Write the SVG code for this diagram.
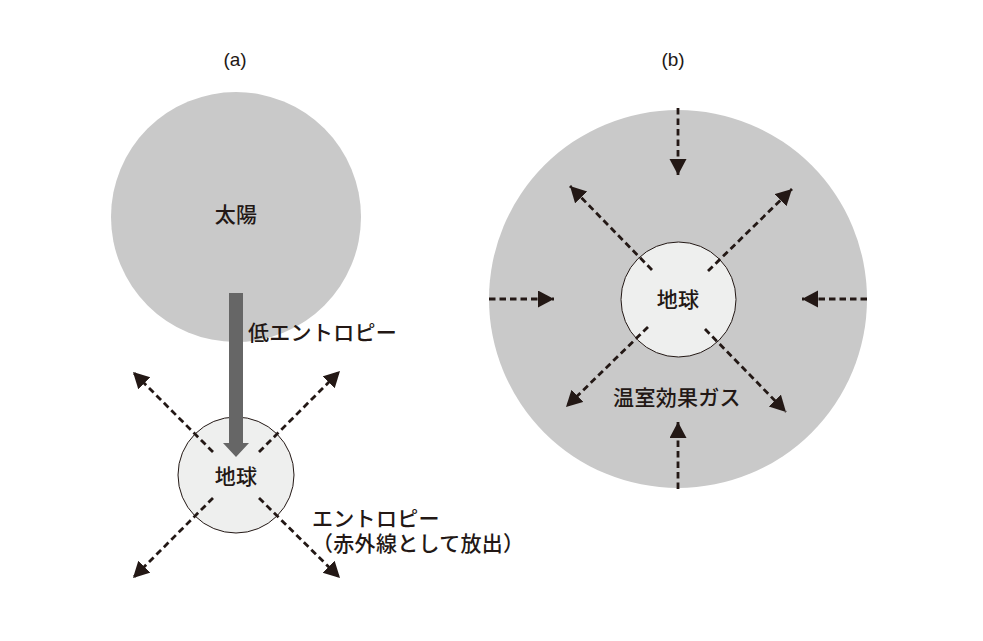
<svg xmlns="http://www.w3.org/2000/svg" width="983" height="641" viewBox="0 0 983 641">
<style>
.bg{fill:#ffffff}
.gray{fill:#c9c9c9}
.earth{fill:#eeefee;stroke:#231815;stroke-width:1}
.dash{fill:none;stroke:#231815;stroke-width:2.8;stroke-dasharray:6.5 4}
.jp{font-family:"Noto Sans CJK JP","Noto Sans",sans-serif;font-size:21px;font-weight:500;fill:#231815;letter-spacing:0.3px}
.lab{font-family:"Liberation Sans",Arial,sans-serif;font-size:19px;fill:#231815}
</style>
<defs>
<marker id="ah" markerUnits="userSpaceOnUse" markerWidth="17" markerHeight="18" refX="16" refY="8.5" orient="auto">
<path d="M0,0 L16,8.5 L0,17 z" fill="#231815"/>
</marker>
</defs>
<rect class="bg" x="0" y="0" width="983" height="641"/>

<g id="label-a"><text class="lab" x="235" y="66" text-anchor="middle">(a)</text></g>
<g id="label-b"><text class="lab" x="673" y="66" text-anchor="middle">(b)</text></g>

<g id="sun">
<circle class="gray" cx="236" cy="217" r="125"/>
<text class="jp" x="236" y="222" text-anchor="middle">太陽</text>
</g>

<g id="greenhouse">
<circle class="gray" cx="678" cy="299" r="189"/>
<text class="jp" x="677" y="405" text-anchor="middle">温室効果ガス</text>
</g>

<g id="earth-a">
<circle class="earth" cx="236" cy="475" r="58"/>
<text class="jp" x="236" y="484" text-anchor="middle">地球</text>
</g>

<g id="earth-b">
<circle class="earth" cx="678.5" cy="299.5" r="57.5"/>
<text class="jp" x="678" y="307" text-anchor="middle">地球</text>
</g>

<g id="connectors">
<line class="dash" x1="213" y1="452" x2="133" y2="372" marker-end="url(#ah)"/>
<line class="dash" x1="259" y1="452" x2="340" y2="371" marker-end="url(#ah)"/>
<line class="dash" x1="213" y1="498" x2="133" y2="578" marker-end="url(#ah)"/>
<line class="dash" x1="259" y1="498" x2="340" y2="578" marker-end="url(#ah)"/>
<path d="M229,293 H243 V443 H249 L236,457 L223,443 H229 Z" fill="#666666"/>
<line class="dash" x1="652" y1="270" x2="570" y2="186" marker-end="url(#ah)"/>
<line class="dash" x1="708" y1="271" x2="792" y2="189" marker-end="url(#ah)"/>
<line class="dash" x1="648" y1="327" x2="566" y2="407" marker-end="url(#ah)"/>
<line class="dash" x1="705" y1="329" x2="786" y2="412" marker-end="url(#ah)"/>
<line class="dash" x1="678" y1="108" x2="678" y2="175" marker-end="url(#ah)"/>
<line class="dash" x1="678" y1="489" x2="678" y2="422" marker-end="url(#ah)"/>
<line class="dash" x1="489" y1="299" x2="554" y2="299" marker-end="url(#ah)"/>
<line class="dash" x1="867" y1="299" x2="802" y2="299" marker-end="url(#ah)"/>
</g>

<g id="label-low">
<text class="jp" x="248" y="340">低エントロピー</text>
</g>
<g id="label-entropy">
<text class="jp" x="312" y="526">エントロピー</text>
<text class="jp" x="312" y="551">（赤外線として放出）</text>
</g>
</svg>
